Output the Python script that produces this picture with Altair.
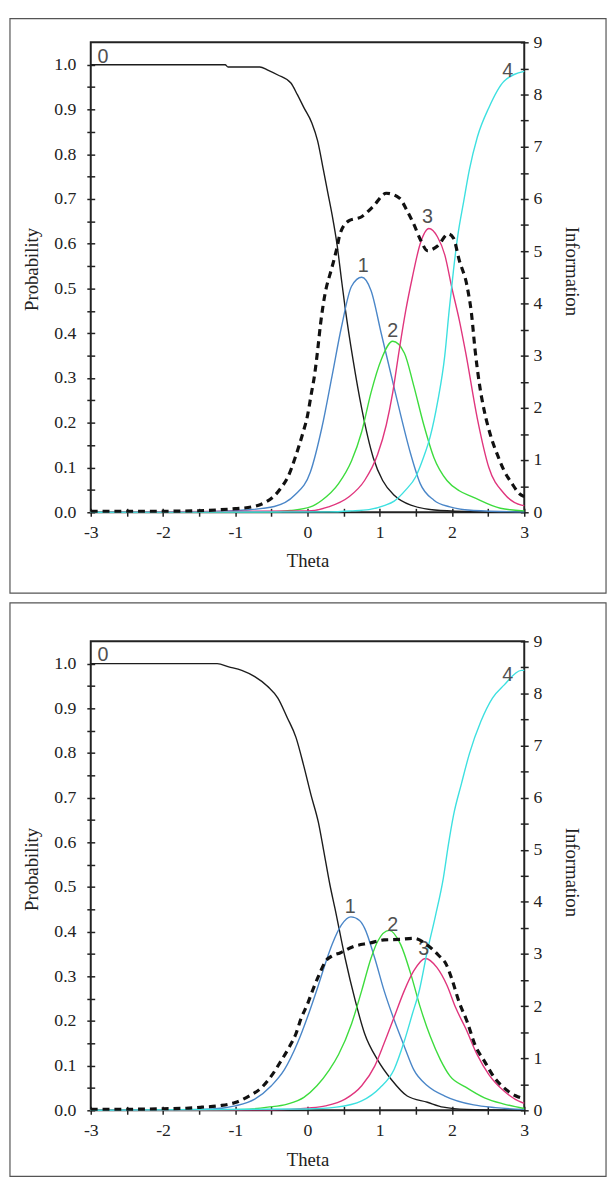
import altair as alt
import pandas as pd

# ---------------- tick values ----------------
THETA_TICKS = [-3.0, -2.5, -2.0, -1.5, -1.0, -0.5, 0.0, 0.5, 1.0, 1.5, 2.0, 2.5, 3.0]
PROB_TICKS = [0.0, 0.05, 0.1, 0.15, 0.2, 0.25, 0.3, 0.35, 0.4, 0.45, 0.5,
              0.55, 0.6, 0.65, 0.7, 0.75, 0.8, 0.85, 0.9, 0.95, 1.0]
INFO_TICKS = [0, 0.5, 1, 1.5, 2, 2.5, 3, 3.5, 4, 4.5, 5, 5.5, 6, 6.5, 7, 7.5, 8, 8.5, 9]

CATS = ["0", "1", "2", "3", "4"]
COLORS = ["#1c1c1c", "#4a86c8", "#3ddc3d", "#e0357d", "#3de0e0"]

# ---------------- panel 1 (theta, probability) ----------------
P1_CAT0 = [(-3.0, 1.0), (-1.14, 1.0), (-1.1, 0.995), (-0.66, 0.995), (-0.55, 0.988), (-0.41, 0.977),
           (-0.23, 0.959), (-0.14, 0.933), (-0.05, 0.904), (0.06, 0.87), (0.14, 0.83), (0.22, 0.765),
           (0.28, 0.715), (0.34, 0.665), (0.41, 0.597), (0.47, 0.52), (0.52, 0.458), (0.63, 0.341),
           (0.75, 0.232), (0.91, 0.122), (1.04, 0.071), (1.2, 0.038), (1.43, 0.016), (1.84, 0.004),
           (2.4, 0.001), (3.0, 0.0)]
P1_CAT1 = [(-3.0, 0.0), (-1.5, 0.001), (-0.87, 0.005), (-0.46, 0.013), (-0.18, 0.038), (0.04, 0.09),
           (0.2, 0.19), (0.34, 0.305), (0.47, 0.414), (0.61, 0.505), (0.75, 0.525), (0.88, 0.495),
           (1.02, 0.40), (1.16, 0.305), (1.29, 0.217), (1.43, 0.129), (1.56, 0.064), (1.75, 0.027),
           (1.97, 0.012), (2.3, 0.004), (3.0, 0.001)]
P1_CAT2 = [(-3.0, 0.0), (-0.5, 0.001), (-0.24, 0.004), (0.04, 0.012), (0.2, 0.027), (0.43, 0.064),
           (0.61, 0.115), (0.75, 0.18), (0.88, 0.268), (1.02, 0.341), (1.18, 0.382), (1.34, 0.356),
           (1.47, 0.283), (1.61, 0.195), (1.75, 0.122), (1.93, 0.071), (2.1, 0.048), (2.29, 0.034),
           (2.67, 0.009), (3.0, 0.003)]
P1_CAT3 = [(-3.0, 0.0), (0.0, 0.003), (0.29, 0.012), (0.57, 0.034), (0.79, 0.071), (0.97, 0.129),
           (1.09, 0.195), (1.18, 0.268), (1.27, 0.363), (1.36, 0.451), (1.45, 0.524), (1.56, 0.6),
           (1.68, 0.634), (1.8, 0.615), (1.9, 0.575), (2.0, 0.5), (2.1, 0.43), (2.19, 0.356),
           (2.35, 0.21), (2.51, 0.1), (2.72, 0.042), (2.96, 0.016), (3.0, 0.015)]
P1_CAT4 = [(-3.0, 0.0), (0.3, 0.001), (0.6, 0.003), (0.85, 0.006), (1.06, 0.015), (1.2, 0.025),
           (1.36, 0.05), (1.5, 0.08), (1.6, 0.12), (1.7, 0.17), (1.8, 0.246), (1.9, 0.35),
           (1.96, 0.45), (2.02, 0.54), (2.08, 0.618), (2.16, 0.693), (2.24, 0.765), (2.35, 0.838),
           (2.51, 0.904), (2.72, 0.963), (3.0, 0.985)]
P1_INFO = [(-3.0, 0.02), (-2.0, 0.02), (-1.5, 0.03), (-1.2, 0.05), (-1.0, 0.07), (-0.78, 0.1),
           (-0.6, 0.18), (-0.47, 0.3), (-0.36, 0.48), (-0.27, 0.68), (-0.17, 1.05), (-0.07, 1.49),
           (0.0, 1.85), (0.05, 2.25), (0.1, 2.65), (0.14, 3.1), (0.18, 3.6), (0.22, 4.0), (0.26, 4.3),
           (0.31, 4.55), (0.36, 4.8), (0.41, 5.08), (0.45, 5.33), (0.57, 5.58), (0.75, 5.66),
           (0.91, 5.86), (1.09, 6.11), (1.27, 6.02), (1.38, 5.77), (1.47, 5.52), (1.57, 5.2),
           (1.66, 5.01), (1.8, 5.1), (1.95, 5.33), (2.02, 5.25), (2.1, 4.83), (2.21, 4.32),
           (2.27, 3.8), (2.32, 3.1), (2.38, 2.45), (2.45, 1.92), (2.53, 1.49), (2.64, 1.06),
           (2.72, 0.8), (2.83, 0.55), (2.93, 0.36), (3.0, 0.3)]
P1_LABEL_THETA = [-2.83, 0.77, 1.18, 1.66, 2.77]
P1_LABEL_PROB = [1.018, 0.55, 0.405, 0.66, 0.985]

# ---------------- panel 2 (theta, probability) ----------------
P2_CAT0 = [(-3.0, 1.0), (-1.25, 1.0), (-1.09, 0.993), (-0.91, 0.985), (-0.73, 0.971), (-0.55, 0.949),
           (-0.41, 0.923), (-0.28, 0.879), (-0.16, 0.835), (-0.05, 0.77), (0.05, 0.705), (0.15, 0.645),
           (0.22, 0.585), (0.31, 0.505), (0.38, 0.452), (0.52, 0.341), (0.66, 0.246), (0.79, 0.172),
           (0.97, 0.113), (1.16, 0.069), (1.38, 0.032), (1.66, 0.018), (1.88, 0.007), (2.2, 0.002),
           (3.0, 0.0)]
P2_CAT1 = [(-3.0, 0.0), (-2.0, 0.0005), (-1.32, 0.003), (-1.0, 0.01), (-0.73, 0.025), (-0.5, 0.055),
           (-0.32, 0.091), (-0.14, 0.15), (0.0, 0.209), (0.13, 0.27), (0.26, 0.335), (0.34, 0.371),
           (0.47, 0.415), (0.6, 0.433), (0.72, 0.425), (0.79, 0.408), (0.93, 0.341), (1.06, 0.268),
           (1.2, 0.202), (1.34, 0.143), (1.47, 0.091), (1.66, 0.055), (1.9, 0.032), (2.3, 0.012),
           (2.6, 0.006), (3.0, 0.002)]
P2_CAT2 = [(-3.0, 0.0), (-1.5, 0.0005), (-0.87, 0.002), (-0.55, 0.007), (-0.28, 0.014), (-0.05, 0.029),
           (0.13, 0.055), (0.3, 0.09), (0.43, 0.125), (0.61, 0.194), (0.75, 0.268), (0.88, 0.341),
           (0.97, 0.378), (1.13, 0.403), (1.29, 0.371), (1.43, 0.305), (1.56, 0.231), (1.7, 0.165),
           (1.84, 0.113), (1.97, 0.077), (2.19, 0.052), (2.45, 0.028), (2.72, 0.014), (3.0, 0.004)]
P2_CAT3 = [(-3.0, 0.0), (-0.5, 0.001), (0.0, 0.005), (0.25, 0.01), (0.52, 0.025), (0.75, 0.055),
           (0.93, 0.099), (1.06, 0.15), (1.2, 0.209), (1.34, 0.268), (1.47, 0.312), (1.63, 0.34),
           (1.79, 0.32), (1.93, 0.28), (2.05, 0.23), (2.19, 0.183), (2.35, 0.124), (2.51, 0.08),
           (2.72, 0.043), (2.96, 0.018), (3.0, 0.016)]
P2_CAT4 = [(-3.0, 0.0), (0.0, 0.003), (0.4, 0.007), (0.75, 0.021), (1.0, 0.05), (1.2, 0.092),
           (1.34, 0.155), (1.45, 0.215), (1.55, 0.27), (1.65, 0.35), (1.77, 0.435), (1.88, 0.52),
           (1.95, 0.595), (2.02, 0.66), (2.13, 0.731), (2.24, 0.798), (2.4, 0.871), (2.56, 0.923),
           (2.72, 0.952), (2.96, 0.985), (3.0, 0.985)]
P2_INFO = [(-3.0, 0.02), (-2.5, 0.02), (-2.0, 0.03), (-1.68, 0.04), (-1.46, 0.06), (-1.21, 0.09),
           (-1.0, 0.15), (-0.8, 0.28), (-0.64, 0.43), (-0.5, 0.66), (-0.37, 0.94), (-0.25, 1.22),
           (-0.16, 1.47), (-0.09, 1.76), (0.0, 2.04), (0.07, 2.3), (0.16, 2.6), (0.25, 2.86),
           (0.35, 2.97), (0.45, 3.02), (0.63, 3.14), (0.86, 3.21), (1.06, 3.27), (1.27, 3.28),
           (1.47, 3.3), (1.65, 3.18), (1.81, 2.98), (1.92, 2.8), (2.0, 2.51), (2.1, 2.07),
           (2.21, 1.7), (2.32, 1.25), (2.45, 0.94), (2.59, 0.62), (2.72, 0.43), (2.88, 0.28),
           (3.0, 0.22)]
P2_LABEL_THETA = [-2.83, 0.59, 1.18, 1.61, 2.77]
P2_LABEL_PROB = [1.02, 0.455, 0.415, 0.36, 0.975]

SERIF = "Liberation Serif"
SANS = "Liberation Sans"
INK = "#222222"
PLOT_W = 440


def common_axis(**kw):
    base = dict(domain=False, grid=False, tickSize=8, offset=-4, tickColor=INK, tickWidth=1.5,
                labelFont=SERIF, labelFontSize=18, labelColor=INK, labelFlush=False,
                labelOverlap=False, titleFont=SERIF, titleFontSize=19, titleFontWeight="normal",
                titleColor=INK)
    base.update(kw)
    return alt.Axis(**base)


def panel(curves, info, lab_theta, lab_prob, height, ttl_x_y, ttl_l_y, ttl_r_y, box_top, box_bottom):
    rows = []
    for cat, pts in zip(CATS, curves):
        for t, v in pts:
            rows.append({"theta": t, "prob": v, "cat": cat})
    df = pd.DataFrame(rows)
    info_df = pd.DataFrame(info, columns=["theta", "info"])
    lab_df = pd.DataFrame({"theta": lab_theta, "prob": lab_prob, "label": CATS})

    x_enc = alt.X("theta:Q", scale=alt.Scale(domain=[-3, 3], nice=False, zero=False),
                  axis=common_axis(values=THETA_TICKS, title="Theta", labelPadding=8,
                                   labelExpr="datum.value % 1 == 0 ? '' + datum.value : ''",
                                   titleY=ttl_x_y, titleBaseline="middle"))
    y_scale = alt.Scale(domain=[0, 1.05], nice=False, zero=False)
    y_axis = common_axis(values=PROB_TICKS, title="Probability", orient="left", labelPadding=11,
                         labelExpr="round(datum.value * 20) % 2 == 0 ? format(datum.value, '.1f') : ''",
                         titleX=-64, titleY=ttl_l_y, titleBaseline="middle")

    lines = alt.Chart(df).mark_line(interpolate="monotone", strokeWidth=1.4).encode(
        x=x_enc,
        y=alt.Y("prob:Q", scale=y_scale, axis=y_axis),
        color=alt.Color("cat:N", scale=alt.Scale(domain=CATS, range=COLORS), legend=None),
        detail="cat:N",
    )
    labels = alt.Chart(lab_df).mark_text(font=SANS, fontSize=20, color="#505050",
                                         baseline="middle", align="center").encode(
        x=x_enc,
        y=alt.Y("prob:Q", scale=y_scale, axis=y_axis),
        text="label:N",
    )
    info_line = alt.Chart(info_df).mark_line(interpolate="monotone", strokeWidth=3.2,
                                             strokeDash=[7, 5], color="#111111").encode(
        x=x_enc,
        y=alt.Y("info:Q", scale=alt.Scale(domain=[0, 9], nice=False, zero=False),
                axis=common_axis(values=INFO_TICKS, title="Information", orient="right",
                                 labelPadding=5,
                                 labelExpr="datum.value % 1 == 0 ? '' + datum.value : ''",
                                 titleX=52, titleY=ttl_r_y, titleBaseline="middle")),
    )
    box = alt.Chart(pd.DataFrame({"k": [0]})).mark_rect(
        fill="transparent", stroke="#555555", strokeWidth=1.2).encode(
        x=alt.value(-82), x2=alt.value(523), y=alt.value(box_top), y2=alt.value(box_bottom))

    return alt.layer(
        box,
        alt.layer(lines, labels),
        info_line,
    ).resolve_scale(y="independent").properties(width=PLOT_W, height=height)


p1 = panel([P1_CAT0, P1_CAT1, P1_CAT2, P1_CAT3, P1_CAT4], P1_INFO, P1_LABEL_THETA, P1_LABEL_PROB,
           477, 53, 230, 232, -24, 559)
p2 = panel([P2_CAT0, P2_CAT1, P2_CAT2, P2_CAT3, P2_CAT4], P2_INFO, P2_LABEL_THETA, P2_LABEL_PROB,
           476, 54, 231, 234, -39, 543)

chart = alt.vconcat(p1, p2, spacing=6).properties(padding=0, background="white").configure_view(
    stroke=INK, strokeWidth=2)

chart.save("out.html", embed_options={"renderer": "svg", "actions": False})
